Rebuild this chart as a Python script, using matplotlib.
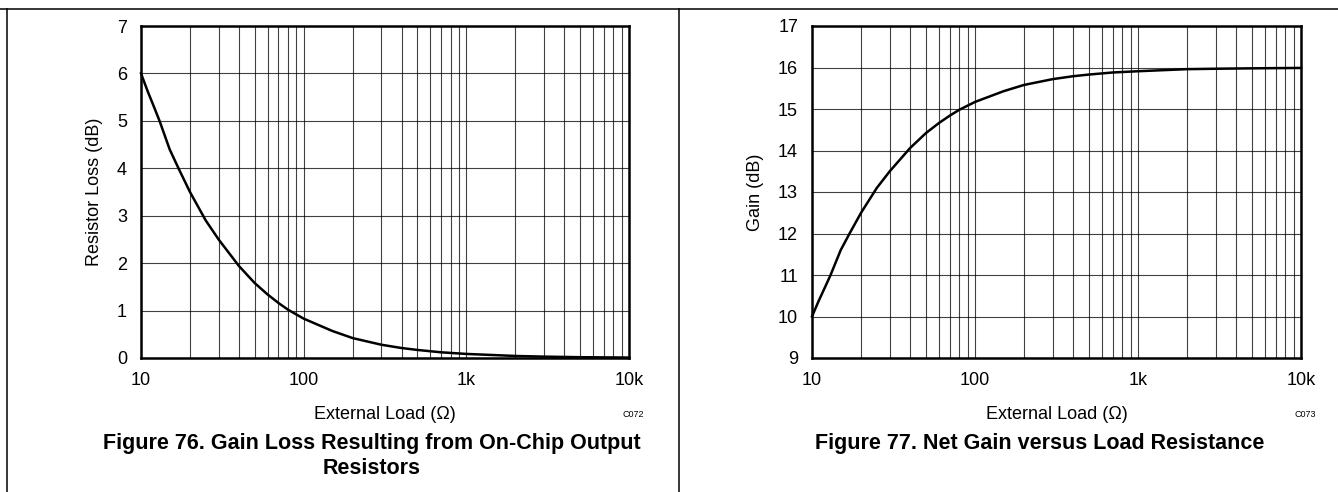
import matplotlib
matplotlib.use("Agg")
import matplotlib.pyplot as plt
from matplotlib.lines import Line2D
from matplotlib.ticker import FixedLocator, FixedFormatter, LogLocator, NullFormatter

plt.rcParams['font.family'] = ['Liberation Sans', 'DejaVu Sans']

# values
load = [10, 11, 12, 13, 15, 17, 20, 25, 30, 40, 50, 60, 70, 80, 100, 150, 200,
        300, 400, 500, 700, 1000, 2000, 3000, 5000, 10000]
loss = [6.0, 5.62, 5.3, 5.0, 4.4, 4.0, 3.5, 2.9, 2.5, 1.94, 1.58, 1.34, 1.16,
        1.02, 0.83, 0.57, 0.42, 0.28, 0.21, 0.17, 0.12, 0.086, 0.043, 0.029,
        0.017, 0.009]
gain = [10.0, 10.38, 10.7, 11.0, 11.6, 12.0, 12.5, 13.1, 13.5, 14.06, 14.42,
        14.66, 14.84, 14.98, 15.17, 15.43, 15.58, 15.72, 15.79, 15.83, 15.88,
        15.91, 15.96, 15.97, 15.98, 15.99]

xticks = [10, 100, 1000, 10000]
xticklabels = ['10', '100', '1k', '10k']
xlabel = 'External Load (\u03a9)'

W, H = 1338, 492
fig = plt.figure(figsize=(W / 100, H / 100), dpi=100)


def px(x0, y0, x1, y1):
    return [x0 / W, 1 - y1 / H, (x1 - x0) / W, (y1 - y0) / H]


def panel(rect, y, ylim, ylabel, code):
    ax = fig.add_axes(rect)
    ax.plot(load, y, color='black', lw=1.8, zorder=3, clip_on=False)
    ax.set_xscale('log')
    ax.set_xlim(10, 10000)
    ax.set_ylim(*ylim)
    ax.xaxis.set_major_locator(FixedLocator(xticks))
    ax.xaxis.set_major_formatter(FixedFormatter(xticklabels))
    ax.xaxis.set_minor_locator(LogLocator(base=10, subs=range(2, 10)))
    ax.xaxis.set_minor_formatter(NullFormatter())
    ax.set_yticks(range(ylim[0], ylim[1] + 1))
    ax.grid(True, which='both', color='black', lw=0.8, alpha=0.75)
    ax.tick_params(which='both', length=0, labelsize=13, pad=10, colors='black')
    for s in ax.spines.values():
        s.set_linewidth(1.8)
        s.set_zorder(4)
    ax.set_ylabel(ylabel, fontsize=13, labelpad=10)
    ax.set_xlabel(xlabel, fontsize=13, labelpad=12)
    ax.text(1.03, -0.17, code, transform=ax.transAxes, fontsize=6.5,
            ha='right', va='center')
    return ax


panel(px(141, 26, 629, 358), loss, (0, 7), 'Resistor Loss (dB)', 'C072')
panel(px(812, 26, 1301, 358), gain, (9, 17), 'Gain (dB)', 'C073')

fig.text(372 / W, 1 - 456 / H,
         'Figure 76. Gain Loss Resulting from On-Chip Output\nResistors',
         ha='center', va='center', fontsize=15.5, fontweight='bold',
         linespacing=1.25)
fig.text(1040 / W, 1 - 443 / H, 'Figure 77. Net Gain versus Load Resistance',
         ha='center', va='center', fontsize=15.5, fontweight='bold')

# page frame lines
for xs, ys in [([0, W], [9, 9]), ([7, 7], [9, H]), ([679, 679], [9, H])]:
    fig.add_artist(Line2D([x / W for x in xs], [1 - v / H for v in ys],
                          color='black', lw=1.1))

fig.savefig('out.png', dpi=100)
